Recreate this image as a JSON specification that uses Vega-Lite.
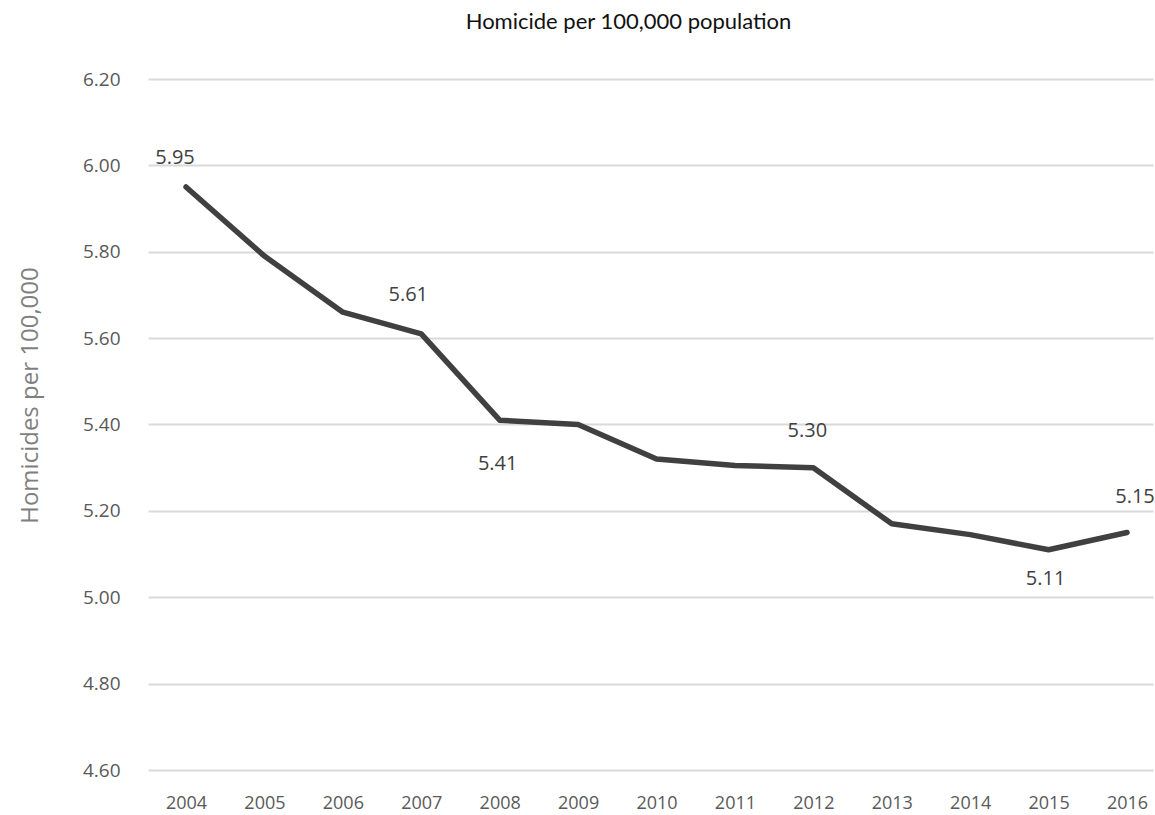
{
  "$schema": "https://vega.github.io/schema/vega-lite/v6.json",
  "autosize": "none",
  "padding": {"left": 148, "top": 79, "right": 2, "bottom": 45},
  "width": 1005,
  "height": 691,
  "background": "white",
  "title": {
    "text": "Homicide per 100,000 population",
    "font": "Lato",
    "fontSize": 22,
    "fontWeight": "normal",
    "color": "#111111",
    "anchor": "middle",
    "dx": -22,
    "offset": 36
  },
  "config": {
    "view": {"stroke": null},
    "axis": {"labelFont": "Open Sans", "titleFont": "Open Sans"}
  },
  "data": {
    "values": [
      {"year": "2004", "rate": 5.95},
      {"year": "2005", "rate": 5.79},
      {"year": "2006", "rate": 5.66},
      {"year": "2007", "rate": 5.61},
      {"year": "2008", "rate": 5.41},
      {"year": "2009", "rate": 5.40},
      {"year": "2010", "rate": 5.32},
      {"year": "2011", "rate": 5.305},
      {"year": "2012", "rate": 5.30},
      {"year": "2013", "rate": 5.17},
      {"year": "2014", "rate": 5.145},
      {"year": "2015", "rate": 5.11},
      {"year": "2016", "rate": 5.15}
    ]
  },
  "encoding": {
    "x": {
      "field": "year",
      "type": "ordinal",
      "scale": {"type": "point", "padding": 0.408, "align": 0.594},
      "axis": {
        "title": null,
        "labelAngle": 0,
        "ticks": false,
        "domain": false,
        "labelFontSize": 18,
        "labelColor": "#595959",
        "labelPadding": 24
      }
    },
    "y": {
      "field": "rate",
      "type": "quantitative",
      "scale": {"domain": [4.6, 6.2], "zero": false, "nice": false},
      "axis": {
        "values": [4.6, 4.8, 5.0, 5.2, 5.4, 5.6, 5.8, 6.0, 6.2],
        "format": ".2f",
        "title": "Homicides per 100,000",
        "titleFontSize": 24,
        "titleFontWeight": "normal",
        "titleColor": "#7f7f7f",
        "titleX": -118,
        "titleY": 316,
        "titleAngle": -90,
        "titleAlign": "center",
        "titleBaseline": "middle",
        "ticks": false,
        "domain": false,
        "labelFontSize": 19,
        "labelColor": "#595959",
        "labelPadding": 28,
        "grid": true,
        "gridColor": "#d9d9d9",
        "gridWidth": 2
      }
    }
  },
  "layer": [
    {
      "mark": {"type": "line", "color": "#404040", "strokeWidth": 5.5, "strokeJoin": "round", "strokeCap": "round"}
    },
    {
      "transform": [{"filter": "datum.year == '2004'"}],
      "mark": {"type": "text", "font": "Open Sans", "fontSize": 20, "color": "#404040", "dx": -11, "dy": -29},
      "encoding": {"text": {"field": "rate", "type": "quantitative", "format": ".2f"}}
    },
    {
      "transform": [{"filter": "datum.year == '2007'"}],
      "mark": {"type": "text", "font": "Open Sans", "fontSize": 20, "color": "#404040", "dx": -13, "dy": -39},
      "encoding": {"text": {"field": "rate", "type": "quantitative", "format": ".2f"}}
    },
    {
      "transform": [{"filter": "datum.year == '2008'"}],
      "mark": {"type": "text", "font": "Open Sans", "fontSize": 20, "color": "#404040", "dx": -2, "dy": 44},
      "encoding": {"text": {"field": "rate", "type": "quantitative", "format": ".2f"}}
    },
    {
      "transform": [{"filter": "datum.year == '2012'"}],
      "mark": {"type": "text", "font": "Open Sans", "fontSize": 20, "color": "#404040", "dx": -6, "dy": -37},
      "encoding": {"text": {"field": "rate", "type": "quantitative", "format": ".2f"}}
    },
    {
      "transform": [{"filter": "datum.year == '2015'"}],
      "mark": {"type": "text", "font": "Open Sans", "fontSize": 20, "color": "#404040", "dx": -3, "dy": 29},
      "encoding": {"text": {"field": "rate", "type": "quantitative", "format": ".2f"}}
    },
    {
      "transform": [{"filter": "datum.year == '2016'"}],
      "mark": {"type": "text", "font": "Open Sans", "fontSize": 20, "color": "#404040", "dx": 8, "dy": -35},
      "encoding": {"text": {"field": "rate", "type": "quantitative", "format": ".2f"}}
    }
  ]
}
